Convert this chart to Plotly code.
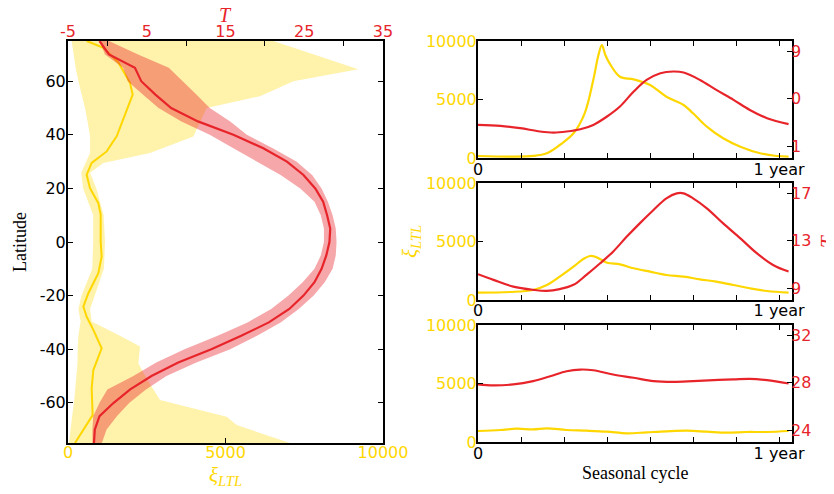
import plotly.graph_objects as go

# ---------------- data: left panel (latitude profiles) ----------------
lat_T = [75, 70, 65, 60, 55, 50, 45, 40, 35, 30, 25, 20, 15, 10, 5, 0, -5, -10, -15, -20,
         -25, -30, -35, -40, -45, -50, -55, -60, -65, -70, -75]
T_mean = [-1.0, 0.2, 3.5, 4.3, 6.1, 8.1, 11.5, 16.0, 19.8, 22.8, 24.9, 26.4, 27.4, 27.9, 28.3,
          28.2, 27.8, 27.2, 26.3, 24.9, 23.1, 20.5, 17.0, 13.2, 9.0, 5.6, 2.9, 0.8, -1.0, -1.6, -1.7]
T_hi = [0.2, 3.9, 7.8, 9.6, 11.3, 13.0, 15.6, 17.7, 21.0, 24.0, 26.0, 27.2, 28.0, 28.6, 29.0,
        29.1, 29.0, 28.6, 27.6, 26.2, 24.3, 22.0, 19.0, 15.6, 11.3, 7.5, 4.9, 2.8, 1.2, -0.1, -0.7]
T_lo = [-1.0, -0.3, 2.0, 2.6, 4.5, 6.5, 9.4, 13.0, 16.0, 19.0, 22.0, 24.5, 26.3, 27.1, 27.5,
        27.5, 27.1, 26.3, 24.8, 23.0, 20.8, 17.8, 14.0, 9.8, 6.2, 3.3, 0.0, -1.0, -1.8, -1.9, -1.9]

lat_xi = [75, 72.5, 67, 59.4, 55, 49.4, 39.4, 33.8, 29.5, 25.1, 20.1, 14.5, 10.2, 0, -5.4, -11.6,
          -19.1, -24.1, -27.9, -32.8, -39.7, -47.8, -54.6, -64.6, -68.3, -75]
xi_mean = [593, 1122, 1598, 1968, 2053, 1862, 1545, 1228, 751, 593, 698, 963, 1037, 1037, 1069,
           963, 646, 487, 593, 804, 1069, 804, 751, 783, 593, 222]

lat_xb = [75, 70, 64.5, 60, 54.4, 50, 45, 39.4, 33.2, 29.5, 25.8, 20, 10, 0, -10, -20, -25,
          -29.7, -35, -39, -45.3, -52, -59, -65.2, -68.3, -75]
xi_lo = [116, 170, 250, 330, 450, 540, 620, 700, 700, 560, 420, 480, 800, 800, 770, 430, 330,
         400, 330, 310, 300, 250, 200, 130, 100, 30]
xi_hi = [6519, 7800, 9217, 7153, 6095, 4402, 4200, 3979, 2603, 1122, 698, 900, 1130, 1175, 1140,
         850, 700, 751, 1650, 2286, 2233, 2550, 2921, 5037, 5354, 7048]

# ---------------- data: right panels (seasonal cycle, day of year) ----------------
day_p1_xi = [0, 37, 64, 80, 95, 111, 124, 134, 140, 144, 148, 153, 165, 181, 200, 219, 239, 250,
             266, 285, 305, 328, 347, 361]
xi_p1 = [196, 150, 200, 426, 1134, 2131, 3836, 6675, 8806, 9659, 8806, 8099, 6956, 6733, 6249,
         5252, 4544, 3836, 2694, 1705, 989, 426, 196, 150]
day_p1_T = [0, 26, 49, 72, 88, 103, 119, 134, 150, 165, 181, 196, 212, 227, 239, 258, 277, 297,
            316, 336, 361]
T_p1 = [-4.95, -5.14, -5.58, -6.2, -6.4, -6.2, -5.77, -4.95, -3.36, -1.46, 1.39, 3.6, 4.88, 5.2,
        5.0, 3.6, 1.7, -0.19, -2.1, -3.67, -4.8]

day_p2_xi = [0, 37, 64, 80, 95, 111, 122, 130, 138, 150, 165, 181, 200, 219, 239, 258, 277, 297,
             316, 336, 361]
xi_p2 = [626, 686, 857, 1285, 1997, 2853, 3488, 3770, 3655, 3196, 3059, 2716, 2425, 2142, 1997,
         1773, 1568, 1285, 1003, 771, 626]
day_p2_T = [0, 18, 41, 64, 80, 95, 111, 126, 142, 157, 173, 188, 204, 219, 231, 239, 250, 266,
            285, 305, 324, 343, 361]
T_p2 = [10.18, 9.7, 9.13, 8.86, 8.77, 8.92, 9.28, 10.12, 11.1, 12.08, 13.35, 14.47, 15.6, 16.58,
        17.0, 17.0, 16.58, 15.74, 14.47, 13.2, 11.95, 10.96, 10.4]

day_p3_xi = [0, 26, 45, 64, 80, 103, 126, 150, 173, 196, 219, 243, 266, 289, 312, 336, 361]
xi_p3 = [963, 1048, 1160, 1100, 1190, 1048, 990, 906, 767, 850, 934, 990, 906, 820, 880, 880, 963]
day_p3_T = [0, 18, 41, 64, 84, 103, 119, 134, 157, 181, 204, 227, 250, 274, 297, 316, 336, 361]
T_p3 = [27.86, 27.78, 27.86, 28.14, 28.55, 28.97, 29.11, 29.05, 28.69, 28.42, 28.14, 28.08, 28.14,
        28.22, 28.28, 28.33, 28.22, 27.94]

# tick labels
lat_ticks = [-60, -40, -20, 0, 20, 40, 60]
lat_ticktext = ["-60", "-40", "-20", "0", "20", "40", "60"]
T_top_ticks = [-5, 5, 15, 25, 35]
T_top_text = ["-5", "5", "15", "25", "35"]
xi_ticks = [0, 5000, 10000]
day_ticks = [0, 50, 100, 150, 200, 250, 300, 350]
day_text = ["0", " ", " ", " ", " ", " ", " ", "1 year"]
p1_T_ticks, p1_T_text = [-9, 0, 9], ["1", "0", "9"]
p2_T_ticks, p2_T_text = [9, 13, 17], ["9", "13", "17"]
p3_T_ticks, p3_T_text = [24, 28, 32], ["24", "28", "32"]

# ---------------- styling ----------------
OFF = 8                      # page body margin offset
W, H = 834 - OFF, 494 - OFF  # figure size so that it fits the window
GOLD = "#FFD700"
RED = "#E8242B"
GOLD_FILL = "rgba(255,215,0,0.33)"
RED_FILL = "rgba(232,36,43,0.40)"
TICKFONT = dict(family="DejaVu Sans", size=16)
SERIF = "Liberation Serif"


def dom_x(a, b):
    return [(a - OFF) / W, (b - OFF) / W]


def dom_y(top, bottom):
    return [1 - (bottom - OFF) / H, 1 - (top - OFF) / H]


fig = go.Figure()

# left panel bands and lines
fig.add_trace(go.Scatter(x=xi_lo + xi_hi[::-1], y=lat_xb + lat_xb[::-1], fill="toself",
                         fillcolor=GOLD_FILL, line=dict(width=0), mode="lines",
                         xaxis="x", yaxis="y", hoverinfo="skip", showlegend=False))
fig.add_trace(go.Scatter(x=xi_mean, y=lat_xi, mode="lines", line=dict(color=GOLD, width=2),
                         xaxis="x", yaxis="y", showlegend=False))
fig.add_trace(go.Scatter(x=T_lo + T_hi[::-1], y=lat_T + lat_T[::-1], fill="toself",
                         fillcolor=RED_FILL, line=dict(width=0), mode="lines",
                         xaxis="x2", yaxis="y", hoverinfo="skip", showlegend=False))
fig.add_trace(go.Scatter(x=T_mean, y=lat_T, mode="lines", line=dict(color=RED, width=2.2),
                         xaxis="x2", yaxis="y", showlegend=False))

# right panels
panels = [
    ("x3", "y3", "y4", day_p1_xi, xi_p1, day_p1_T, T_p1),
    ("x4", "y5", "y6", day_p2_xi, xi_p2, day_p2_T, T_p2),
    ("x5", "y7", "y8", day_p3_xi, xi_p3, day_p3_T, T_p3),
]
for xa, ya, yt, dx, vx, dt, vt in panels:
    fig.add_trace(go.Scatter(x=dx, y=vx, mode="lines", line=dict(color=GOLD, width=2.2, shape="spline"),
                             xaxis=xa, yaxis=ya, showlegend=False))
    fig.add_trace(go.Scatter(x=dt, y=vt, mode="lines", line=dict(color=RED, width=2.2, shape="spline"),
                             xaxis=xa, yaxis=yt, showlegend=False))

frame = dict(showline=True, linecolor="black", linewidth=2, showgrid=False, zeroline=False,
             automargin=False)
tick_in = dict(ticks="inside", ticklen=5, tickcolor="black", tickwidth=1)

layout = dict(
    width=W, height=H, autosize=False,
    margin=dict(l=0, r=0, t=0, b=0),
    paper_bgcolor="white", plot_bgcolor="white",
    showlegend=False,
    # left panel
    xaxis=dict(domain=dom_x(68, 383), anchor="y", range=[0, 10000], tickvals=xi_ticks,
               ticktext=["0", "5000", "10000"], tickfont=dict(TICKFONT, color=GOLD),
               ticklabelstandoff=-6, mirror=True, **frame, **tick_in),
    xaxis2=dict(overlaying="x", side="top", anchor="y", range=[-5, 35], tickvals=T_top_ticks,
                ticktext=T_top_text, tickfont=dict(TICKFONT, color=RED), ticks="",
                showline=False, showgrid=False, zeroline=False, automargin=False,
                minor=dict(tickvals=[0, 10, 20, 30], ticks="inside", ticklen=5,
                           tickcolor="black", tickwidth=1)),
    yaxis=dict(domain=dom_y(41, 443), anchor="x", range=[-75, 75], tickvals=lat_ticks,
               ticktext=lat_ticktext, tickfont=dict(TICKFONT, color="black"),
               ticklabelstandoff=-3, mirror="ticks", **frame, **tick_in),
)

right_geo = [(41, 158.3, [-11.3, 11.0], p1_T_ticks, p1_T_text),
             (183.3, 300, [8.0, 17.85], p2_T_ticks, p2_T_text),
             (325, 442.3, [23.0, 32.85], p3_T_ticks, p3_T_text)]
for i, (top, bot, trng, tt, ttxt) in enumerate(right_geo):
    xn = 3 + i
    yxi = 3 + 2 * i
    yT = 4 + 2 * i
    layout[f"xaxis{xn}"] = dict(domain=dom_x(478, 792), anchor=f"y{yxi}", range=[0, 365],
                                tickvals=day_ticks, ticktext=day_text,
                                tickfont=dict(TICKFONT, color="black"), ticklabelstandoff=-5,
                                mirror="ticks", **frame, **tick_in)
    layout[f"yaxis{yxi}"] = dict(domain=dom_y(top, bot), anchor=f"x{xn}", range=[0, 10000],
                                 tickvals=xi_ticks, ticktext=["0", "5000", "10000"],
                                 tickfont=dict(TICKFONT, color=GOLD), ticklabelstandoff=-4,
                                 mirror=True, **frame, **tick_in)
    layout[f"yaxis{yT}"] = dict(overlaying=f"y{yxi}", anchor=f"x{xn}", side="right", range=trng,
                                tickvals=tt, ticktext=ttxt, tickfont=dict(TICKFONT, color=RED),
                                ticklabelstandoff=-2,
                                showline=False, showgrid=False, zeroline=False, automargin=False,
                                **tick_in)

XI_LABEL = "<i>ξ</i><sub><i>LTL</i></sub>"


def ann(text, x, y, color, size, angle=0, family=SERIF, height=None):
    d = dict(text=text, x=(x - OFF) / W, y=1 - (y - OFF) / H, xref="paper", yref="paper",
             showarrow=False, xanchor="center", yanchor="middle", textangle=angle,
             font=dict(family=family, size=size, color=color))
    if height is not None:
        d["height"] = height
    return d


layout["annotations"] = [
    ann("<i>T</i>", 226, 15, RED, 20, height=14),
    ann(XI_LABEL, 226, 476, GOLD, 21),
    ann("Latitude", 20, 242, "black", 18, angle=-90),
    ann(XI_LABEL, 411, 242, GOLD, 21, angle=-90),
    ann("<i>T</i>", 828, 242, RED, 21, angle=-90),
    ann("Seasonal cycle", 635, 473, "black", 18),
]

fig.update_layout(**layout)
fig.write_html("out.html")
